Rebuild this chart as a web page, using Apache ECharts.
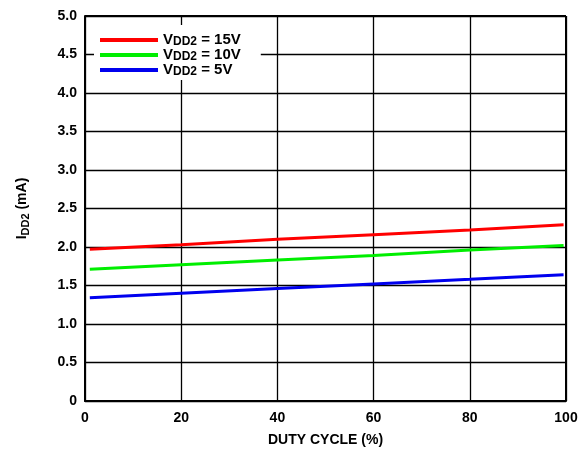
<!DOCTYPE html>
<html><head><meta charset="utf-8">
<script src="https://cdn.jsdelivr.net/npm/echarts@6/dist/echarts.min.js"></script>
<style>html,body{margin:0;padding:0;background:#fff}#c{width:582px;height:452px}</style>
</head><body><div id="c"></div>
<script>
const xTicks = [0, 20, 40, 60, 80, 100];
const yTicks = [0, 0.5, 1.0, 1.5, 2.0, 2.5, 3.0, 3.5, 4.0, 4.5, 5.0];
const seriesNames = ['15V', '10V', '5V'];
const dutyCycle = [1, 20, 40, 60, 80, 99.5];
const idd15 = [1.97, 2.03, 2.10, 2.16, 2.22, 2.29];
const idd10 = [1.71, 1.77, 1.83, 1.89, 1.96, 2.02];
const idd5  = [1.34, 1.40, 1.46, 1.52, 1.58, 1.64];
const colors = ['#ff0000', '#00ee00', '#0000ee'];

const font = "'Liberation Sans', Arial, sans-serif";
const chart = echarts.init(document.getElementById('c'));
const mk = (vals) => dutyCycle.map((x, i) => [x, vals[i]]);
const data = [idd15, idd10, idd5];
chart.setOption({
  animation: false,
  backgroundColor: '#fff',
  grid: { left: 85, right: 16, top: 16, bottom: 51 },
  legend: {
    orient: 'vertical', left: 94, top: 25, padding: [4, 20, 2, 6], itemGap: -4,
    backgroundColor: '#fff', icon: 'rect', itemWidth: 58, itemHeight: 4,
    data: seriesNames.map((n, i) => ({ name: n, itemStyle: { color: colors[i] } })),
    formatter: (n) => '{a|V}{b|DD2}{a| = ' + n + '}',
    textStyle: {
      fontFamily: font, fontWeight: 700, fontSize: 15, color: '#000', lineHeight: 16,
      rich: {
        a: { fontFamily: font, fontWeight: 700, fontSize: 15, color: '#000', lineHeight: 16 },
        b: { fontFamily: font, fontWeight: 700, fontSize: 12, color: '#000', verticalAlign: 'bottom', lineHeight: 16, padding: [7, 0, 0, 0] }
      }
    }
  },
  xAxis: {
    type: 'value', min: 0, max: 100, interval: 20,
    name: 'DUTY CYCLE (%)', nameLocation: 'middle', nameGap: 32,
    nameTextStyle: { fontFamily: font, fontWeight: 700, fontSize: 14, color: '#000' },
    axisLine: { lineStyle: { color: '#000', width: 2 } },
    axisTick: { show: false },
    axisLabel: { fontFamily: font, fontWeight: 700, fontSize: 14, color: '#000', margin: 10,
      formatter: (v) => xTicks.includes(v) ? String(v) : '' },
    splitLine: { show: true, lineStyle: { color: '#000', width: 1.3 } }
  },
  yAxis: {
    type: 'value', min: 0, max: 5, interval: 0.5,
    name: '{a|I}{b|DD2}{a| (mA)}', nameLocation: 'middle', nameGap: 54, nameRotate: 90,
    nameTextStyle: { fontFamily: font, fontWeight: 700, fontSize: 14, color: '#000',
      rich: {
        a: { fontFamily: font, fontWeight: 700, fontSize: 14, color: '#000' },
        b: { fontFamily: font, fontWeight: 700, fontSize: 11, color: '#000', verticalAlign: 'bottom', padding: [6, 0, 0, 0] }
      } },
    axisLine: { show: true, lineStyle: { color: '#000', width: 2 } },
    axisTick: { show: false },
    axisLabel: { fontFamily: font, fontWeight: 700, fontSize: 14, color: '#000', margin: 8,
      formatter: (v) => { const t = yTicks.find(y => Math.abs(y - v) < 1e-9); return t === undefined ? '' : (t === 0 ? '0' : t.toFixed(1)); } },
    splitLine: { show: true, lineStyle: { color: '#000', width: 1.3 } }
  },
  series: seriesNames.map((n, i) => ({
    name: n, type: 'line', data: mk(data[i]), symbol: 'none', z: 5,
    lineStyle: { color: colors[i], width: 3 }, itemStyle: { color: colors[i] }
  })).concat([{
    type: 'line', data: [], markLine: { silent: true, symbol: 'none', label: { show: false },
      lineStyle: { color: '#000', width: 2, type: 'solid' },
      data: [{ xAxis: 100 }, { yAxis: 5 }] }
  }])
});
</script></body></html>
